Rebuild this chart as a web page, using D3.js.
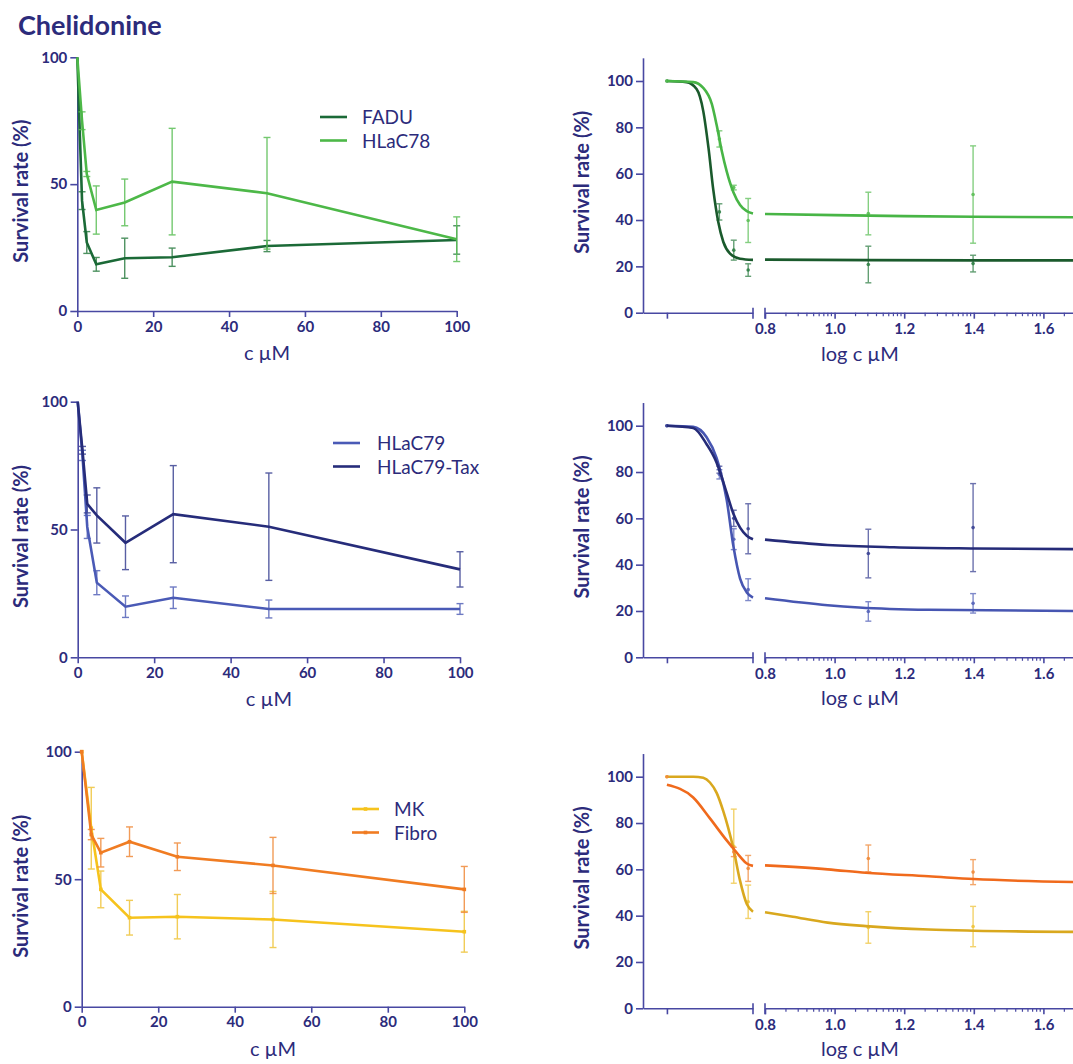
<!DOCTYPE html>
<html>
<head>
<meta charset="utf-8">
<script src="https://cdn.jsdelivr.net/npm/d3@7"></script>
<style>
  body { margin: 0; background: #fff; }
  svg { display: block; font-family: Lato, "Open Sans", sans-serif; }
</style>
</head>
<body>
<svg id="viz" width="1073" height="1064"></svg>
<script>
// concentrations (µM); control is drawn at log c = -1 on the right plots
var conc = [0, 1.25, 2.5, 5, 12.5, 25, 50, 100];
var concMF = [0, 2.5, 5, 12.5, 25, 50, 100];
var controlLog = -1;

// survival rate (%) mean and sd
var fadu = [100, 43.5, 27, 18.4, 20.8, 21.2, 25.6, 28],
    faduSd = [0, 3.5, 4.3, 2.7, 7.9, 3.6, 2.2, 5.6];
var hlac78 = [100, 75, 54, 39.8, 42.8, 51, 46.4, 28.3],
    hlac78Sd = [0, 3.5, 1, 9.5, 9.2, 21, 22, 8.8];
var hlac79 = [100, 79, 51, 29.2, 19.8, 23.3, 18.9, 18.9],
    hlac79Sd = [0, 2, 4.5, 4.7, 4.2, 4.2, 3.5, 2.1];
var hlac79Tax = [100, 81, 60, 55.5, 44.8, 56, 51.1, 34.4],
    hlac79TaxSd = [0, 1.5, 3.5, 10.8, 10.5, 19, 21, 6.9];
var mk = [100, 70, 46, 34.9, 35.3, 34.2, 29.4],
    mkSd = [0, 16, 7.2, 6.8, 8.7, 11, 8];
var fibro = [100, 67.5, 60.4, 64.7, 58.8, 55.4, 46],
    fibroSd = [0, 2, 5.6, 5.8, 5.4, 11, 9];

// fitted curves: [log c, %], before and after the axis break
var fitFaduA = [[-1, 100], [-0.59, 99.5], [-0.38, 96.5], [-0.24, 87], [-0.13, 71], [-0.03, 53], [0.075, 39], [0.18, 30.5], [0.32, 25.5], [0.53, 23.3], [0.8, 22.8]];
var fitFaduB = [[0.8, 22.9], [1.1, 22.7], [1.4, 22.6], [1.7, 22.6]];
var fitHlac78A = [[-1, 100], [-0.45, 99.5], [-0.24, 97], [-0.06, 90], [0.04, 81], [0.145, 70], [0.25, 61], [0.39, 52], [0.53, 46.5], [0.67, 43.8], [0.8, 42.8]];
var fitHlac78B = [[0.8, 42.6], [1.0, 42.1], [1.2, 41.7], [1.4, 41.4], [1.7, 41.2]];
var fitHlac79A = [[-1, 100], [-0.45, 99.5], [-0.17, 95], [0.04, 86], [0.11, 81], [0.25, 68], [0.39, 48], [0.53, 34], [0.67, 28], [0.8, 25.8]];
var fitHlac79B = [[0.8, 25.5], [0.98, 22.5], [1.07, 21.5], [1.27, 20.5], [1.7, 20]];
var fitTaxA = [[-1, 100], [-0.45, 99], [-0.17, 92], [0.04, 84], [0.11, 80], [0.25, 71], [0.39, 62], [0.53, 56], [0.67, 52.5], [0.8, 51]];
var fitTaxB = [[0.8, 50.8], [0.98, 48.5], [1.17, 47.5], [1.4, 47], [1.7, 46.7]];
var fitMkA = [[-1, 100], [-0.45, 100], [-0.24, 99.5], [-0.1, 97.5], [0.04, 93], [0.18, 85], [0.28, 78], [0.39, 69], [0.53, 55], [0.67, 45], [0.8, 41.7]];
var fitMkB = [[0.8, 41.5], [0.88, 39.5], [0.98, 37], [1.09, 35.5], [1.27, 34], [1.4, 33.5], [1.7, 33]];
var fitFibroA = [[-1, 96.5], [-0.45, 91], [-0.1, 82], [0.25, 72.5], [0.39, 69], [0.53, 65.5], [0.67, 62.5], [0.8, 61.5]];
var fitFibroB = [[0.8, 61.7], [0.98, 60], [1.09, 58.5], [1.27, 57], [1.4, 55.8], [1.7, 54.5]];

var yTicksLeft = [0, 50, 100];
var xTicksLeft = [0, 20, 40, 60, 80, 100];
var yTicksRight = [0, 20, 40, 60, 80, 100];
var xTicksRight = [0.8, 1.0, 1.2, 1.4, 1.6];

var axisColor = "#4848a2",
    textColor = "#2c2b7b";

var svg = d3.select("#viz");

svg.append("text")
    .attr("x", 18).attr("y", 35)
    .attr("font-size", 27).attr("font-weight", "bold")
    .attr("fill", textColor)
    .text("Chelidonine");

var rows = [
  {
    left: {x0: 77.3, x1: 456.7, y0: 311, y1: 57.3},
    right: {y0: 312.7, y1: 81},
    legend: {x: 320, y: 117, tx: 362, markers: false},
    conc: conc,
    series: [
      {name: "FADU", mean: fadu, sd: faduSd, color: "#1b6a37", fitColor: "#1a5a2c", barColor: "#2f7f45", fitA: fitFaduA, fitB: fitFaduB},
      {name: "HLaC78", mean: hlac78, sd: hlac78Sd, color: "#4db848", fitColor: "#48b546", barColor: "#5cbf57", fitA: fitHlac78A, fitB: fitHlac78B}
    ]
  },
  {
    left: {x0: 77.7, x1: 460, y0: 657.3, y1: 401.7},
    right: {y0: 657.3, y1: 425.7},
    legend: {x: 333, y: 443, tx: 377, markers: false},
    conc: conc,
    series: [
      {name: "HLaC79", mean: hlac79, sd: hlac79Sd, color: "#4a5ab6", fitColor: "#4756b2", barColor: "#5563b9", fitA: fitHlac79A, fitB: fitHlac79B},
      {name: "HLaC79-Tax", mean: hlac79Tax, sd: hlac79TaxSd, color: "#262c7a", fitColor: "#252b78", barColor: "#3b4393", fitA: fitTaxA, fitB: fitTaxB}
    ]
  },
  {
    left: {x0: 81.7, x1: 464.3, y0: 1006.7, y1: 751.7},
    right: {y0: 1008.3, y1: 776.7},
    legend: {x: 352, y: 809, tx: 394, markers: true},
    conc: concMF,
    series: [
      {name: "MK", mean: mk, sd: mkSd, color: "#f6c31d", fitColor: "#d9a81e", barColor: "#efc43a", fitA: fitMkA, fitB: fitMkB},
      {name: "Fibro", mean: fibro, sd: fibroSd, color: "#f07c22", fitColor: "#f06a1c", barColor: "#f08a3a", fitA: fitFibroA, fitB: fitFibroB}
    ]
  }
];

function styleAxis(g) {
  g.selectAll("path, line").attr("stroke", axisColor).attr("stroke-width", 1.6);
  g.selectAll("text")
      .attr("fill", textColor)
      .attr("font-size", 15)
      .attr("font-weight", "bold")
      .attr("font-family", "Lato, sans-serif");
}

function errorBars(g, pts, x, y, color, cap, opacity) {
  var eb = g.append("g").attr("stroke", color).attr("stroke-width", 1.4).attr("opacity", opacity);
  pts.forEach(function(p) {
    if (!p.sd) return;
    var px = x(p.x);
    eb.append("line").attr("x1", px).attr("x2", px).attr("y1", y(p.m - p.sd)).attr("y2", y(p.m + p.sd));
    eb.append("line").attr("x1", px - cap).attr("x2", px + cap).attr("y1", y(p.m - p.sd)).attr("y2", y(p.m - p.sd));
    eb.append("line").attr("x1", px - cap).attr("x2", px + cap).attr("y1", y(p.m + p.sd)).attr("y2", y(p.m + p.sd));
  });
}

rows.forEach(function(row) {
  // ---------- left plot: linear concentration ----------
  var L = row.left;
  var x = d3.scaleLinear().domain([0, 100]).range([L.x0, L.x1]);
  var y = d3.scaleLinear().domain([0, 100]).range([L.y0, L.y1]);

  var gl = svg.append("g");
  gl.append("g").attr("transform", "translate(0," + L.y0 + ")")
      .call(d3.axisBottom(x).tickValues(xTicksLeft).tickSize(6).tickSizeOuter(0).tickPadding(4))
      .call(styleAxis);
  gl.append("g").attr("transform", "translate(" + L.x0 + ",0)")
      .call(d3.axisLeft(y).tickValues(yTicksLeft).tickSize(7).tickSizeOuter(0).tickPadding(3))
      .call(styleAxis);

  gl.append("text")
      .attr("transform", "translate(21," + ((L.y0 + L.y1) / 2 + 7) + ") rotate(-90)")
      .attr("text-anchor", "middle").attr("dy", "0.35em")
      .attr("font-size", 20).attr("font-weight", "bold").attr("fill", textColor)
      .text("Survival rate (%)");
  gl.append("text")
      .attr("x", (L.x0 + L.x1) / 2).attr("y", L.y0 + 49)
      .attr("text-anchor", "middle")
      .attr("font-size", 20).attr("fill", textColor)
      .text("c \u00b5M");

  row.series.forEach(function(s) {
    var pts = row.conc.map(function(c, i) { return {x: c, m: s.mean[i], sd: s.sd[i]}; });
    errorBars(gl, pts, x, y, s.barColor, 3.5, 0.85);
    gl.append("path").datum(pts)
        .attr("fill", "none").attr("stroke", s.color).attr("stroke-width", 2.6)
        .attr("d", d3.line().x(function(d) { return x(d.x); }).y(function(d) { return y(d.m); }));
    if (row.legend.markers) {
      gl.selectAll(null).data(pts).enter().append("rect")
          .attr("x", function(d) { return x(d.x) - 1.8; })
          .attr("y", function(d) { return y(d.m) - 1.8; })
          .attr("width", 3.6).attr("height", 3.6)
          .attr("fill", s.color);
    }
  });

  // legend
  row.series.forEach(function(s, i) {
    var ly = row.legend.y + i * 23.5;
    gl.append("line")
        .attr("x1", row.legend.x).attr("x2", row.legend.x + 27)
        .attr("y1", ly).attr("y2", ly)
        .attr("stroke", s.color).attr("stroke-width", 2.6);
    if (row.legend.markers) {
      gl.append("rect").attr("x", row.legend.x + 11.7).attr("y", ly - 1.8)
          .attr("width", 3.6).attr("height", 3.6).attr("fill", s.color);
    }
    gl.append("text")
        .attr("x", row.legend.tx).attr("y", ly + 7)
        .attr("font-size", 19).attr("fill", textColor)
        .text(s.name);
  });

  // ---------- right plot: log concentration with axis break ----------
  var R = row.right;
  var xa = d3.scaleLinear().domain([-1.5, 0.8]).range([643, 753]);
  var xb = d3.scaleLinear().domain([0.8, 2.0]).range([765, 765 + 348 * 1.2]);
  var xr = function(v) { return v <= 0.8 ? xa(v) : xb(v); };
  var yr = d3.scaleLinear().domain([0, 100]).range([R.y0, R.y1]);

  var gr = svg.append("g");
  gr.append("g").attr("transform", "translate(0," + R.y0 + ")")
      .call(d3.axisBottom(xa).tickValues([controlLog]).tickFormat("").tickSize(6).tickSizeOuter(0))
      .call(styleAxis);
  gr.append("g").attr("transform", "translate(0," + R.y0 + ")")
      .call(d3.axisBottom(xb).tickValues(xTicksRight).tickFormat(d3.format(".1f")).tickSize(6).tickSizeOuter(0).tickPadding(5))
      .call(styleAxis);

  // minor ticks (log spaced inside each 0.2 step)
  var minor = [];
  xTicksRight.concat([1.8]).forEach(function(t) {
    d3.range(2, 10).forEach(function(k) { minor.push(t + 0.2 * Math.log10(k)); });
  });
  gr.append("g").selectAll("line").data(minor).enter().append("line")
      .attr("x1", function(d) { return xb(d); }).attr("x2", function(d) { return xb(d); })
      .attr("y1", R.y0).attr("y2", R.y0 + 3.5)
      .attr("stroke", axisColor).attr("stroke-width", 1.2);

  // break marks
  [xa(0.8), xb(0.8)].forEach(function(bx) {
    gr.append("line").attr("x1", bx).attr("x2", bx)
        .attr("y1", R.y0 - 5).attr("y2", R.y0 + 6)
        .attr("stroke", axisColor).attr("stroke-width", 1.6);
  });

  gr.append("g").attr("transform", "translate(643,0)")
      .call(d3.axisLeft(yr.copy().domain([0, 110]).range([R.y0, yr(110)])).tickValues(yTicksRight).tickSize(7).tickSizeOuter(0).tickPadding(3))
      .call(styleAxis);

  gr.append("text")
      .attr("transform", "translate(582," + ((R.y0 + yr(110)) / 2 - 3) + ") rotate(-90)")
      .attr("text-anchor", "middle").attr("dy", "0.35em")
      .attr("font-size", 20).attr("font-weight", "bold").attr("fill", textColor)
      .text("Survival rate (%)");
  gr.append("text")
      .attr("x", 860).attr("y", R.y0 + 48)
      .attr("text-anchor", "middle")
      .attr("font-size", 20).attr("fill", textColor)
      .text("log c \u00b5M");

  row.series.forEach(function(s) {
    var pts = row.conc.map(function(c, i) {
      return {x: c === 0 ? controlLog : Math.log10(c), m: s.mean[i], sd: s.sd[i]};
    });
    errorBars(gr, pts, xr, yr, s.barColor, 3, 0.75);
    gr.selectAll(null).data(pts).enter().append("circle")
        .attr("cx", function(d) { return xr(d.x); })
        .attr("cy", function(d) { return yr(d.m); })
        .attr("r", 1.8).attr("fill", s.barColor).attr("opacity", 0.9);

    var lineA = d3.line().curve(d3.curveMonotoneX)
        .x(function(d) { return xa(d[0]); }).y(function(d) { return yr(d[1]); });
    var lineB = d3.line().curve(d3.curveMonotoneX)
        .x(function(d) { return xb(d[0]); }).y(function(d) { return yr(d[1]); });
    gr.append("path").datum(s.fitA).attr("fill", "none")
        .attr("stroke", s.fitColor).attr("stroke-width", 2.6).attr("d", lineA);
    gr.append("path").datum(s.fitB).attr("fill", "none")
        .attr("stroke", s.fitColor).attr("stroke-width", 2.6).attr("d", lineB);
  });
});
</script>
</body>
</html>
